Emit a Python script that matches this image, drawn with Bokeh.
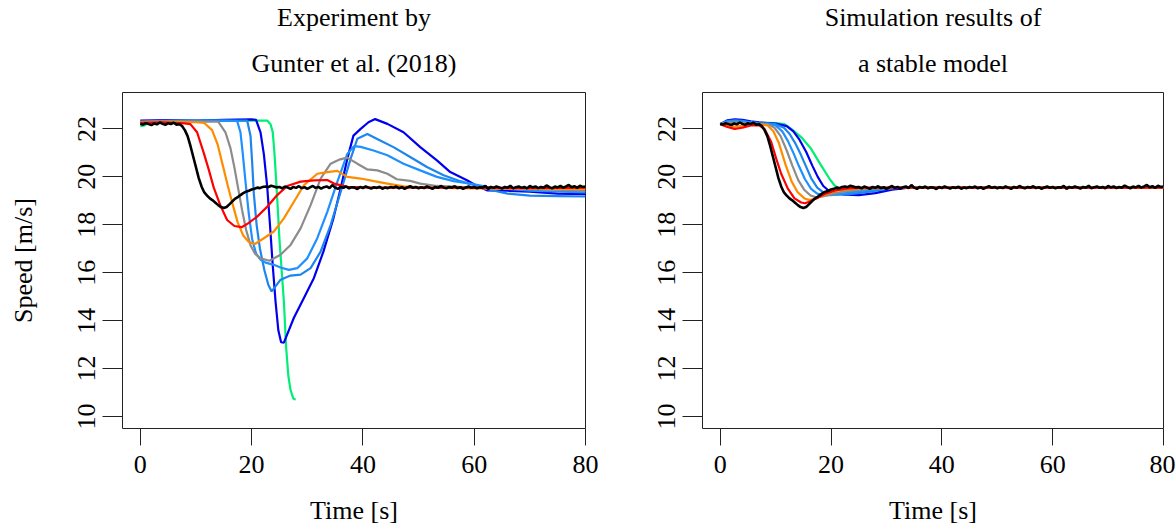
import numpy as np
from bokeh.plotting import figure
from bokeh.layouts import row
from bokeh.models import Range1d, FixedTicker, Title
from bokeh.embed import file_html
from bokeh.resources import INLINE

FONT = "Liberation Serif"
FS = "26px"

x_ticks = [0, 20, 40, 60, 80]
y_ticks = [10, 12, 14, 16, 18, 20, 22]

# ---- leader / reference trace (black), sampled every 0.5 s ----
lead_t = np.arange(0, 80.5, 0.5)
lead_v = [
    22.22, 22.18, 22.24, 22.2, 22.16, 22.23, 22.19, 22.27, 22.21, 22.17, 22.24, 22.2, 22.26, 22.18, 22.2,
    22.12, 21.95, 21.7, 21.3, 20.85, 20.4, 19.95, 19.6, 19.35, 19.22, 19.1, 19.02, 18.92, 18.82, 18.74,
    18.7, 18.74, 18.85, 18.97, 19.08, 19.15, 19.24, 19.32, 19.38, 19.42, 19.47, 19.5, 19.55, 19.53, 19.58,
    19.6, 19.57, 19.63, 19.6, 19.56, 19.58,
    19.52, 19.6, 19.55, 19.5, 19.58, 19.54, 19.61, 19.53, 19.57, 19.5,
    19.56, 19.62, 19.54, 19.58, 19.51, 19.57, 19.6, 19.53, 19.66, 19.55,
    19.5, 19.58, 19.54, 19.6, 19.52, 19.57, 19.55, 19.49, 19.58, 19.53,
    19.6, 19.55, 19.51, 19.57, 19.54, 19.59, 19.5, 19.56, 19.53, 19.58,
    19.55, 19.6, 19.52, 19.57, 19.5, 19.56, 19.61, 19.54, 19.58, 19.52,
    19.57, 19.53, 19.6, 19.55, 19.5, 19.58, 19.54, 19.62, 19.56, 19.52,
    19.58, 19.55, 19.61, 19.53, 19.57, 19.5, 19.56, 19.6, 19.54, 19.58,
    19.52, 19.57, 19.55, 19.62, 19.5, 19.58, 19.54, 19.6, 19.56, 19.51,
    19.58, 19.55, 19.63, 19.52, 19.57, 19.6, 19.54, 19.58, 19.52, 19.62,
    19.56, 19.6, 19.53, 19.58, 19.55, 19.64, 19.57, 19.52, 19.6, 19.56,
    19.62, 19.55, 19.6, 19.66, 19.57, 19.61, 19.54, 19.63, 19.58, 19.6,
]

# ---- experiment (left panel) ----
exp_red_t = [0, 4, 8, 9.0, 10.2, 11.4, 12.3, 13.2, 14.4, 15.6, 16.9, 18.2, 19.3, 21.0, 22.8, 24.6, 26.4,
             28.8, 31.2, 33.6, 34.8, 37.2, 42, 50, 60, 70, 80]
exp_red_v = [22.25, 22.27, 22.23, 22.2, 21.86, 21.0, 20.3, 19.55, 18.8, 18.2, 17.95, 17.9, 18.05, 18.34,
             18.75, 19.24, 19.62, 19.8, 19.85, 19.87, 19.72, 19.58, 19.55, 19.55, 19.55, 19.53, 19.55]

exp_orange_t = [0, 5, 10, 11.5, 12.9, 13.9, 14.8, 15.7, 16.6, 17.5, 18.5, 19.5, 20.6, 22.2, 24.0, 25.8,
                27.6, 29.4, 31.8, 33.6, 35.4, 37.2, 39.6, 42, 44.4, 47.3, 52, 60, 70, 80]
exp_orange_v = [22.28, 22.3, 22.28, 22.25, 21.95, 21.35, 20.5, 19.65, 18.85, 18.1, 17.55, 17.28, 17.2,
                17.44, 17.72, 18.27, 18.96, 19.65, 20.13, 20.2, 20.25, 20.0, 19.93, 19.82, 19.72, 19.6,
                19.55, 19.52, 19.5, 19.5]

exp_gray_t = [0, 5, 10, 14.0, 15.3, 16.2, 16.9, 17.6, 18.3, 19.0, 19.8, 20.6, 21.6, 23.2, 25.2, 27.0,
              28.8, 30.6, 32.4, 34.2, 35.9, 37.2, 39.0, 40.8, 42.6, 44.4, 46.1, 48.5, 50.3, 53.3, 60, 70, 80]
exp_gray_v = [22.3, 22.32, 22.3, 22.3, 21.86, 21.2, 20.4, 19.5, 18.6, 17.8, 17.15, 16.8, 16.6, 16.5,
              16.75, 17.16, 17.85, 18.82, 19.93, 20.55, 20.73, 20.8, 20.55, 20.31, 20.27, 20.13, 19.9,
              19.83, 19.72, 19.62, 19.55, 19.5, 19.42]

exp_lb1_t = [0, 5, 10, 15, 17.4, 18.0, 18.4, 18.9, 19.5, 20.1, 20.8, 21.6, 22.5, 24.0, 25.2, 26.7, 28.2,
             30.0, 31.8, 33.6, 35.4, 37.2, 38.4, 39.6, 41.9, 44.4, 47.3, 50.3, 53.3, 56.3, 59.3, 62.3, 70, 80]
exp_lb1_v = [22.3, 22.33, 22.35, 22.35, 22.33, 21.86, 21.0, 19.8, 18.45, 17.4, 16.8, 16.55, 16.42, 16.33,
             16.22, 16.12, 16.19, 16.6, 17.44, 18.54, 19.79, 20.96, 21.28, 21.25, 21.1, 20.9, 20.55,
             20.27, 20.0, 19.82, 19.72, 19.58, 19.42, 19.35]

exp_lb2_t = [0, 5, 10, 15, 19.2, 19.8, 20.1, 20.4, 20.9, 21.5, 22.3, 23.0, 23.6, 24.2, 25.2, 27.0, 28.8,
             30.6, 32.4, 34.2, 36.0, 37.8, 39.0, 40.8, 43.1, 45.5, 48.5, 51.5, 54.5, 57.5, 60.5, 63, 66,
             70, 75, 80]
exp_lb2_v = [22.3, 22.35, 22.35, 22.35, 22.35, 21.72, 20.6, 19.3, 18.0, 17.0, 16.1, 15.5, 15.22, 15.4,
             15.71, 15.88, 15.92, 16.19, 16.88, 17.99, 19.37, 20.76, 21.59, 21.79, 21.52, 21.24, 20.83,
             20.41, 20.07, 19.82, 19.62, 19.45, 19.3, 19.22, 19.2, 19.18]

exp_blue_t = [0, 5, 10, 15, 20, 20.8, 21.6, 22.2, 22.8, 23.3, 23.8, 24.3, 24.8, 25.3, 25.8, 26.4, 27.6,
              29.4, 31.2, 32.9, 34.7, 36.0, 37.2, 38.3, 39.6, 41.0, 42.2, 44.4, 47.3, 50.3, 53.3, 55.7,
              58.7, 60.5, 62.3, 66, 70, 75, 80]
exp_blue_v = [22.35, 22.37, 22.35, 22.38, 22.4, 22.38, 21.86, 20.95, 19.6, 18.0, 16.3, 14.8, 13.6, 13.1,
              13.08, 13.43, 14.12, 14.95, 15.78, 16.88, 18.27, 19.51, 20.76, 21.72, 22.0, 22.28, 22.41,
              22.21, 21.86, 21.24, 20.69, 20.2, 19.86, 19.62, 19.44, 19.42, 19.38, 19.3, 19.28]

exp_green_t = [0, 0.8, 1.5, 5, 10, 15, 20, 22.8, 23.4, 23.8, 24.1, 24.4, 24.7, 25.0, 25.4, 25.8, 26.2,
               26.6, 27.0, 27.5, 27.9]
exp_green_v = [22.12, 22.15, 22.3, 22.32, 22.33, 22.35, 22.35, 22.35, 22.2, 21.86, 21.0, 19.9, 18.7,
               17.4, 16.1, 14.8, 12.9, 11.7, 11.1, 10.75, 10.7]

# ---- simulation (right panel) ----
sim_red_t = [0, 1.3, 2.6, 4.0, 5.5, 7.0, 8.0, 9.2, 10.1, 11.0, 12.2, 13.4, 14.6, 15.3, 16.2, 17.5, 19.0,
             21.0, 23.0, 26.0, 30.0, 80]
sim_red_v = [22.2, 22.08, 22.0, 22.05, 22.15, 22.15, 22.0, 21.45, 20.76, 20.13, 19.51, 19.1, 18.93, 18.9,
             18.97, 19.12, 19.3, 19.45, 19.52, 19.55, 19.55, 19.55]

sim_orange_t = [0, 1.3, 2.6, 4, 5.5, 7, 8.5, 9.6, 10.6, 11.8, 12.9, 14.0, 15.2, 16.2, 17.3, 18.5, 20.0,
                22, 25, 29, 80]
sim_orange_v = [22.2, 22.13, 22.1, 22.13, 22.2, 22.2, 22.15, 21.9, 21.4, 20.5, 19.8, 19.35, 19.1, 19.03,
                19.1, 19.22, 19.35, 19.46, 19.52, 19.55, 19.55]

sim_gray_t = [0, 1.3, 2.6, 4, 5.5, 7, 8.5, 9.8, 10.9, 12.0, 13.0, 14.1, 15.2, 16.3, 17.3, 18.5, 20, 22,
              25, 28, 32, 80]
sim_gray_v = [22.2, 22.25, 22.27, 22.25, 22.22, 22.2, 22.2, 22.05, 21.7, 21.1, 20.48, 19.85, 19.45,
              19.22, 19.15, 19.18, 19.27, 19.38, 19.47, 19.52, 19.55, 19.55]

sim_lb1_t = [0, 1.3, 2.6, 4, 5.5, 7, 8.5, 10, 11.2, 12.2, 13.2, 14.2, 15.3, 16.4, 17.5, 18.5, 20, 22, 25,
             28, 32, 80]
sim_lb1_v = [22.2, 22.3, 22.32, 22.3, 22.26, 22.23, 22.22, 22.15, 21.9, 21.5, 21.0, 20.45, 19.9, 19.5,
             19.3, 19.24, 19.24, 19.3, 19.4, 19.49, 19.55, 19.55]

sim_lb2_t = [0, 1.3, 2.6, 4, 5.5, 7, 8.5, 10, 11.5, 12.5, 13.5, 14.5, 15.4, 16.4, 17.5, 18.6, 19.7, 21,
             23, 26, 29, 32, 34, 80]
sim_lb2_v = [22.2, 22.33, 22.36, 22.34, 22.28, 22.24, 22.22, 22.2, 22.05, 21.8, 21.42, 20.95, 20.48,
             19.95, 19.55, 19.35, 19.28, 19.26, 19.27, 19.35, 19.47, 19.54, 19.55, 19.55]

sim_blue_t = [0, 1.3, 2.6, 4, 5.5, 7, 8.5, 10, 12, 13.2, 14.3, 15.5, 16.6, 17.6, 18.6, 19.6, 20.8, 22.5,
              25, 28, 31, 34, 80]
sim_blue_v = [22.2, 22.36, 22.4, 22.38, 22.32, 22.27, 22.24, 22.22, 22.12, 21.9, 21.55, 21.05, 20.48,
              20.0, 19.62, 19.42, 19.32, 19.26, 19.24, 19.32, 19.47, 19.55, 19.55]

sim_green_t = [0, 1.3, 2.6, 4, 5.5, 7, 8.5, 10, 11.6, 12.8, 14.6, 16.4, 18.2, 19.7, 20.6, 21.6, 23, 25.5,
               28, 31, 34, 80]
sim_green_v = [22.2, 22.3, 22.33, 22.32, 22.28, 22.26, 22.25, 22.24, 22.2, 22.0, 21.66, 21.17, 20.48,
               19.93, 19.65, 19.48, 19.4, 19.37, 19.42, 19.5, 19.55, 19.55]

C_RED, C_ORANGE, C_GRAY = "#FF0000", "#FF8C00", "#8C8C8C"
C_LB1, C_LB2, C_BLUE, C_GREEN = "#1E90FF", "#1C86EE", "#0000EE", "#00EE76"

exp_series = [
    (exp_green_t, exp_green_v, C_GREEN),
    (exp_blue_t, exp_blue_v, C_BLUE),
    (exp_lb2_t, exp_lb2_v, C_LB2),
    (exp_lb1_t, exp_lb1_v, C_LB1),
    (exp_gray_t, exp_gray_v, C_GRAY),
    (exp_orange_t, exp_orange_v, C_ORANGE),
    (exp_red_t, exp_red_v, C_RED),
]
sim_series = [
    (sim_green_t, sim_green_v, C_GREEN),
    (sim_blue_t, sim_blue_v, C_BLUE),
    (sim_lb2_t, sim_lb2_v, C_LB2),
    (sim_lb1_t, sim_lb1_v, C_LB1),
    (sim_gray_t, sim_gray_v, C_GRAY),
    (sim_orange_t, sim_orange_v, C_ORANGE),
    (sim_red_t, sim_red_v, C_RED),
]


def title(p, s, standoff, line_height):
    p.add_layout(Title(text=s, align="center", text_font=FONT, text_font_size=FS,
                       text_font_style="normal", text_color="black", standoff=standoff,
                       text_line_height=line_height), "above")


def make_fig(width, bl, br, series, titles, ylabel):
    p = figure(width=width, height=529, output_backend="svg", toolbar_location=None,
               x_range=Range1d(-3.2, 80.0), y_range=Range1d(9.5, 23.52),
               min_border_left=bl, min_border_right=br, min_border_top=90, min_border_bottom=101)
    p.grid.visible = False
    p.outline_line_color = "#222222"
    p.outline_line_width = 1
    p.background_fill_color = "white"
    p.border_fill_color = "white"
    for ax in (p.xaxis[0], p.yaxis[0]):
        ax.axis_line_color = None
        ax.minor_tick_line_color = None
        ax.major_tick_in = 0
        ax.major_tick_line_color = "#222222"
        ax.major_label_text_font = FONT
        ax.major_label_text_font_size = FS
        ax.major_label_text_color = "black"
        ax.axis_label_text_font = FONT
        ax.axis_label_text_font_size = FS
        ax.axis_label_text_font_style = "normal"
        ax.axis_label_text_color = "black"
    p.xaxis[0].ticker = FixedTicker(ticks=x_ticks)
    p.yaxis[0].ticker = FixedTicker(ticks=y_ticks)
    p.xaxis[0].major_tick_out = 17
    p.yaxis[0].major_tick_out = 20
    p.xaxis[0].major_label_standoff = 10
    p.yaxis[0].major_label_standoff = 7
    p.yaxis[0].major_label_orientation = "vertical"
    p.xaxis[0].axis_label = "Time [s]"
    p.xaxis[0].axis_label_standoff = 20
    if ylabel:
        p.yaxis[0].axis_label = ylabel
        p.yaxis[0].axis_label_standoff = 38

    for t, v, c in series:
        p.line(t, v, line_color=c, line_width=2.2)
    p.line(lead_t, lead_v, line_color="black", line_width=2.6)

    title(p, titles[1], 30, 0.9)
    title(p, titles[0], 0, 1.0)
    return p


p1 = make_fig(608, 122, 23, exp_series, ["Experiment by", "Gunter et al. (2018)"], "Speed [m/s]")
p2 = make_fig(567, 94, 12, sim_series, ["Simulation results of", "a stable model"], None)

layout = row(p1, p2)
open("out.html", "w").write(file_html(layout, INLINE))
